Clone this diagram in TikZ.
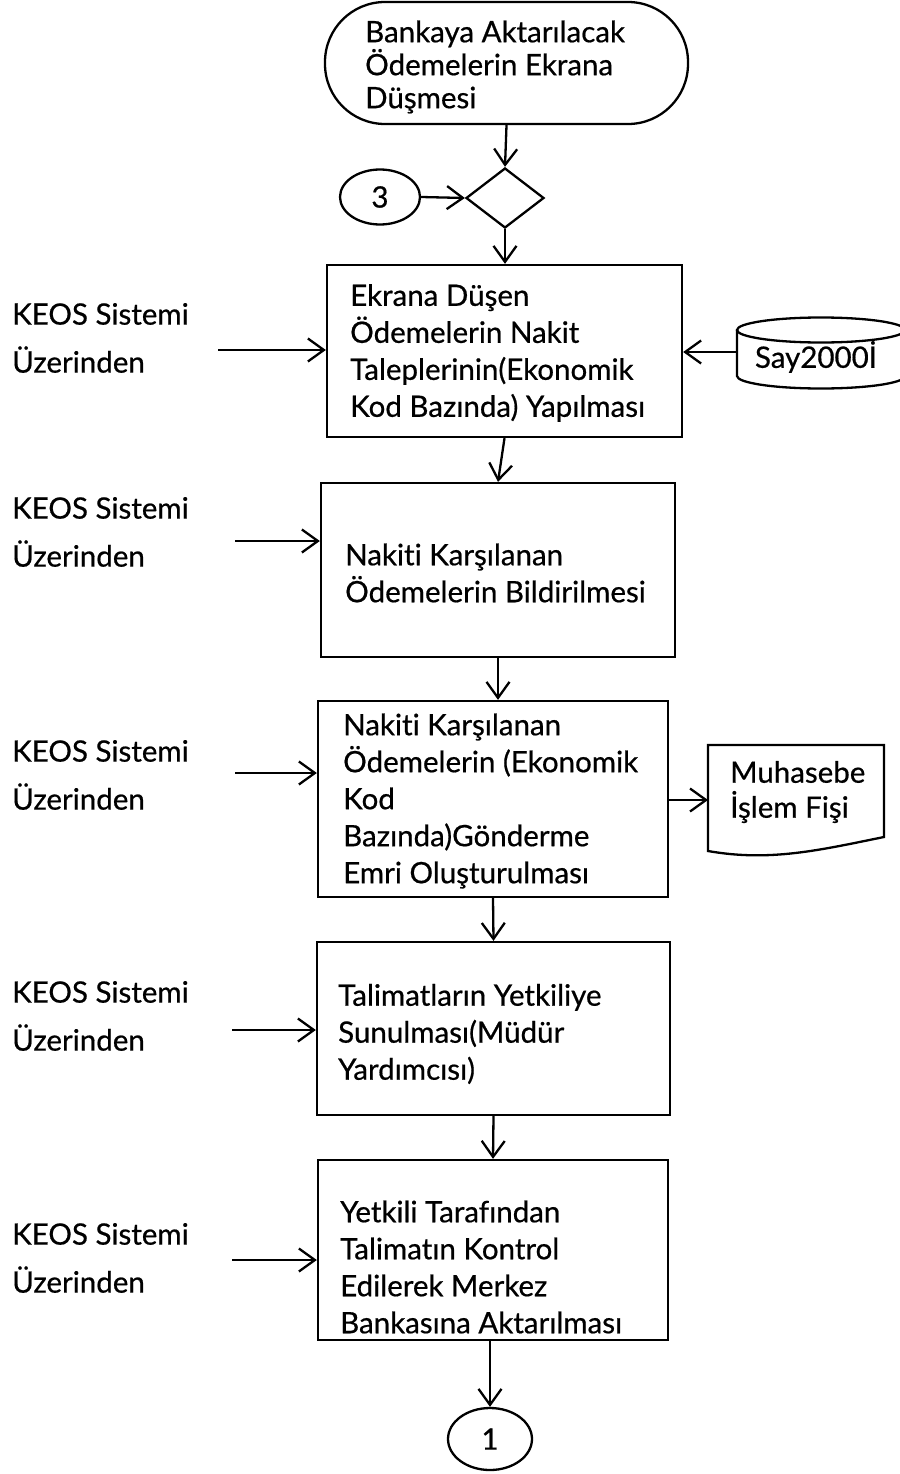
\documentclass[tikz,border=0pt]{standalone}
\usepackage{fontspec}
\setmainfont{Lato}[FakeBold=0.6,Ligatures={NoCommon}]
\usetikzlibrary{arrows.meta,shapes.geometric}
\begin{document}
\begin{tikzpicture}[x=1pt,y=-1pt,
  every node/.style={font=\fontsize{29.5}{37}\selectfont},
  lw/.style={line width=2.3pt},
  arr/.style={lw,-{Straight Barb[length=16pt,width=23pt]}},
  box/.style={draw,lw,rectangle,inner sep=0pt},
  txt/.style={anchor=west,align=left,inner sep=0pt},
  lbl/.style={txt,font=\fontsize{29.5}{48}\selectfont},
  conn/.style={draw,lw,ellipse,inner sep=0pt},
]
\useasboundingbox (0,0) rectangle (899,1474);

% terminal
\node[box, rounded corners=60pt, minimum width=363pt, minimum height=122pt] (term) at (506.5,63) {};
\node[txt, font=\fontsize{29.5}{33}\selectfont] (tt) at (365,67) {Bankaya Aktarılacak\\Ödemelerin Ekrana\\Düşmesi};

% connector 3 and diamond
\node[conn, minimum width=80pt, minimum height=55pt] (c3) at (380,197) {3};
\node[draw, lw, diamond, inner sep=0pt, minimum width=78pt, minimum height=60pt] (dia) at (505,198) {};

% boxes
\node[box, minimum width=355pt, minimum height=172pt] (b1) at (504.5,351) {};
\node[txt] (t1) at (350,353) {Ekrana Düşen\\Ödemelerin Nakit\\Taleplerinin(Ekonomik\\Kod Bazında) Yapılması};

\node[box, minimum width=354pt, minimum height=174pt] (b2) at (498,570) {};
\node[txt] (t2) at (345,573) {Nakiti Karşılanan\\Ödemelerin Bildirilmesi};

\node[box, minimum width=350pt, minimum height=196pt] (b3) at (493,799) {};
\node[txt] (t3) at (343,801) {Nakiti Karşılanan\\Ödemelerin (Ekonomik\\Kod\\Bazında)Gönderme\\Emri Oluşturulması};

\node[box, minimum width=353pt, minimum height=173pt] (b4) at (493.5,1028.5) {};
\node[txt] (t4) at (338,1034) {Talimatların Yetkiliye\\Sunulması(Müdür\\Yardımcısı)};

\node[box, minimum width=350pt, minimum height=180pt] (b5) at (493,1250) {};
\node[txt] (t5) at (340,1267) {Yetkili Tarafından\\Talimatın Kontrol\\Edilerek Merkez\\Bankasına Aktarılması};

\node[conn, minimum width=84pt, minimum height=62pt] (c1) at (490,1439) {1};

% left labels
\node[lbl] (l1) at (12,338) {KEOS Sistemi\\Üzerinden};
\node[lbl] (l2) at (12,532) {KEOS Sistemi\\Üzerinden};
\node[lbl] (l3) at (12,775) {KEOS Sistemi\\Üzerinden};
\node[lbl] (l4) at (12,1016) {KEOS Sistemi\\Üzerinden};
\node[lbl] (l5) at (12,1258) {KEOS Sistemi\\Üzerinden};

\coordinate (k1) at (218,350);
\coordinate (k2) at (235,541);
\coordinate (k3) at (235,773);
\coordinate (k4) at (232,1030);
\coordinate (k5) at (232,1260);

% database cylinder
\draw[lw] (821,330) ellipse [x radius=84pt, y radius=12.5pt];
\draw[lw] (737,330) -- (737,376) arc[start angle=180, end angle=360, x radius=84pt, y radius=12.5pt] -- (905,330);
\node (cyl) at (816,357) {Say2000İ};
\coordinate (cylw) at (737,352);

% document
\draw[lw] (708,745) -- (884,745) -- (884,837) .. controls (820,850) and (770,862) .. (708,851) -- cycle;
\node[txt, font=\fontsize{29.5}{35}\selectfont] (doc) at (730,792) {Muhasebe\\İşlem Fişi};
\coordinate (docw) at (708,800);

% connectors
\draw[arr] (term.south) -- (dia.north);
\draw[arr] (c3.east) -- (dia.west);
\draw[arr] (dia.south) -- (dia.south |- b1.north);
\draw[arr] (cylw) -- (b1.east |- cylw);
\draw[arr] (b1.south) -- (b2.north);
\draw[arr] (b2.south) -- (b2.south |- b3.north);
\draw[arr] (b3.south) -- (b4.north);
\draw[arr] (b4.south) -- (b5.north);
\draw[arr] (c1.north |- b5.south) -- (c1.north);
\draw[arr] (b3.east |- docw) -- (docw);
\draw[arr] (k1) -- (b1.west |- k1);
\draw[arr] (k2) -- (b2.west |- k2);
\draw[arr] (k3) -- (b3.west |- k3);
\draw[arr] (k4) -- (b4.west |- k4);
\draw[arr] (k5) -- (b5.west |- k5);
\end{tikzpicture}
\end{document}
